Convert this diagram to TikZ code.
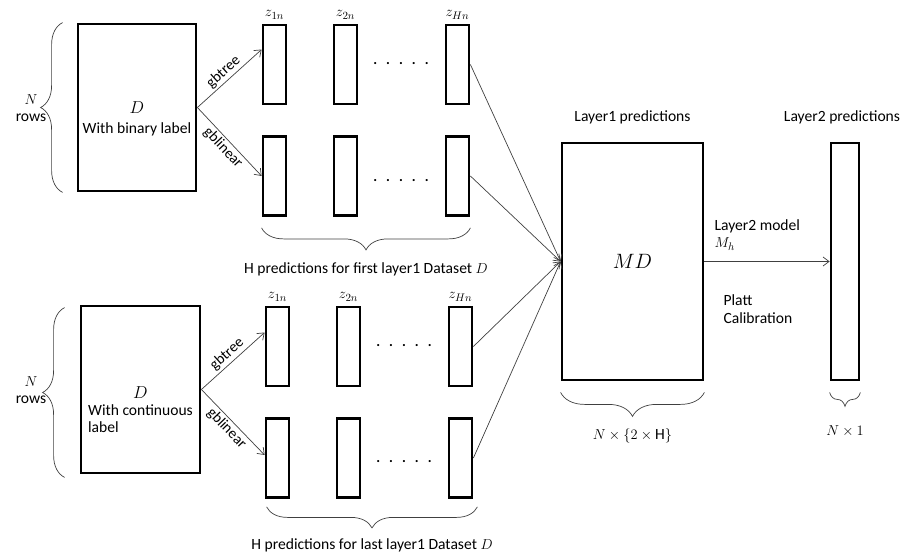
\documentclass[tikz,border=0pt]{standalone}
\usepackage{fontspec}
\setmainfont{Carlito}
\usetikzlibrary{arrows.meta,calc,positioning,decorations.pathreplacing}

\begin{document}
\begin{tikzpicture}[x=1pt,y=-1pt,
      font=\fontsize{15.6}{17}\selectfont,
      databox/.style={draw,line width=2.8pt,minimum width=118pt,minimum height=167pt,inner sep=0pt},
      predcol/.style={draw,line width=2.8pt,minimum width=23pt,minimum height=79pt,inner sep=0pt},
      arr/.style={-{Straight Barb[length=6pt,width=9pt]},line width=0.7pt,draw=black!75},
      brc/.style={decorate,decoration={brace,amplitude=#1},line width=0.7pt,draw=black!75},
      brc/.default=22pt,
      dots/.style={font=\bfseries\Large,inner sep=1pt},
      lbl/.style={font=\fontsize{15}{17}\selectfont,inner sep=2pt},
      bigsym/.style={font=\fontsize{18}{20}\selectfont,inner sep=2pt}]
  \useasboundingbox (0,0) rectangle (900,554);

  % first layer1 dataset
  \node[databox] (Dtop) at (137,107.5) {};
  \node[bigsym] (Dtopsym) at (137,108) {$D$};
  \node[below=4pt of Dtopsym,inner sep=2pt] (Dtoptxt) {With binary label};
  \node[align=center] (nrowstop) at (31,108) {$N$\\rows};
  \draw[brc] ($(Dtop.south west)+(-14,0)$) -- ($(Dtop.north west)+(-14,0)$);

  \foreach \i/\x/\s in {1/274.5/1,2/345.5/2,3/457.5/H} {
    \node[predcol] (ta\i) at (\x,64.5) {};
    \node[predcol] (tb\i) at (\x,176) {};
    \node[above=1pt of ta\i] (tz\i) {$z_{\s n}$};
  }
  \node[dots] (tdotsa) at (401,64) {.\hspace{9pt}.\hspace{9pt}.\hspace{9pt}.\hspace{9pt}.};
  \node[dots] (tdotsb) at (401,181) {.\hspace{9pt}.\hspace{9pt}.\hspace{9pt}.\hspace{9pt}.};

  \draw[arr] (Dtop.east) -- node[lbl,midway,above,sloped] (gbtreetop) {gbtree} ($(ta1.west)+(0,-15)$);
  \draw[arr] (Dtop.east) -- node[lbl,midway,below,sloped] (gblineartop) {gblinear} (tb1.west);
  \draw[brc] ($(tb3.south east)+(0,11)$) -- node[midway,below=31pt] (hpredtop)
    {H predictions for first layer1 Dataset $D$} ($(tb1.south west)+(0,11)$);

  % last layer1 dataset
  \node[databox,minimum width=119pt] (Dbot) at (140.5,389.5) {};
  \node[bigsym] (Dbotsym) at (140.5,393) {$D$};
  \node[below=1pt of Dbotsym,align=left,inner sep=2pt] (Dbottxt) {With continuous\\label};
  \node[align=center] (nrowsbot) at (31,390) {$N$\\rows};
  \draw[brc] ($(Dbot.south west)+(-15,3)$) -- ($(Dbot.north west)+(-15,3)$);

  \foreach \i/\x/\s in {1/277.5/1,2/348.5/2,3/460.5/H} {
    \node[predcol] (ba\i) at (\x,346.5) {};
    \node[predcol] (bb\i) at (\x,458) {};
    \node[above=1pt of ba\i] (bz\i) {$z_{\s n}$};
  }
  \node[dots] (bdotsa) at (404,346) {.\hspace{9pt}.\hspace{9pt}.\hspace{9pt}.\hspace{9pt}.};
  \node[dots] (bdotsb) at (404,462) {.\hspace{9pt}.\hspace{9pt}.\hspace{9pt}.\hspace{9pt}.};

  \draw[arr] (Dbot.east) -- node[lbl,midway,above,sloped] (gbtreebot) {gbtree} ($(ba1.west)+(0,-14)$);
  \draw[arr] (Dbot.east) -- node[lbl,midway,below,sloped] (gblinearbot) {gblinear} ($(bb1.west)+(0,-3)$);
  \draw[brc=21pt] ($(bb3.south east)+(4,8)$) -- node[midway,below=28pt] (hpredbot)
    {H predictions for last layer1 Dataset $D$} ($(bb1.south west)+(2,8)$);

  % layer1 and layer2 predictions
  \node[draw,line width=2.8pt,minimum width=141pt,minimum height=237pt,
    font=\fontsize{20}{22}\selectfont] (MD) at (632.5,261.5) {$MD$};
  \node[predcol,minimum width=28pt,minimum height=237pt] (out) at (845,261.5) {};
  \node[above=14pt of MD] (l1pred) {Layer1 predictions};
  \node[above=14pt of out,xshift=-3pt] (l2pred) {Layer2 predictions};

  \foreach \n in {ta3,tb3,ba3,bb3}
    \draw[arr] (\n.east) -- (MD.west);
  \draw[arr] (MD.east) -- (out.west);
  \node[anchor=west,align=left] (l2model) at (711,235) {Layer2 model\\$M_h$};
  \node[anchor=west,align=left] (platt) at (720,309) {Platt\\[1pt]Calibration};

  \draw[brc=24pt] ($(MD.south east)+(0,11)$) -- node[midway,below=33pt] (mdsize)
    {$N\times\{2\times\mathrm{H}\}$} ($(MD.south west)+(0,11)$);
  \draw[brc=14pt] ($(out.south east)+(0,11)$) -- node[midway,below=30pt] (outsize)
    {$N\times1$} ($(out.south west)+(0,11)$);
\end{tikzpicture}
\end{document}
